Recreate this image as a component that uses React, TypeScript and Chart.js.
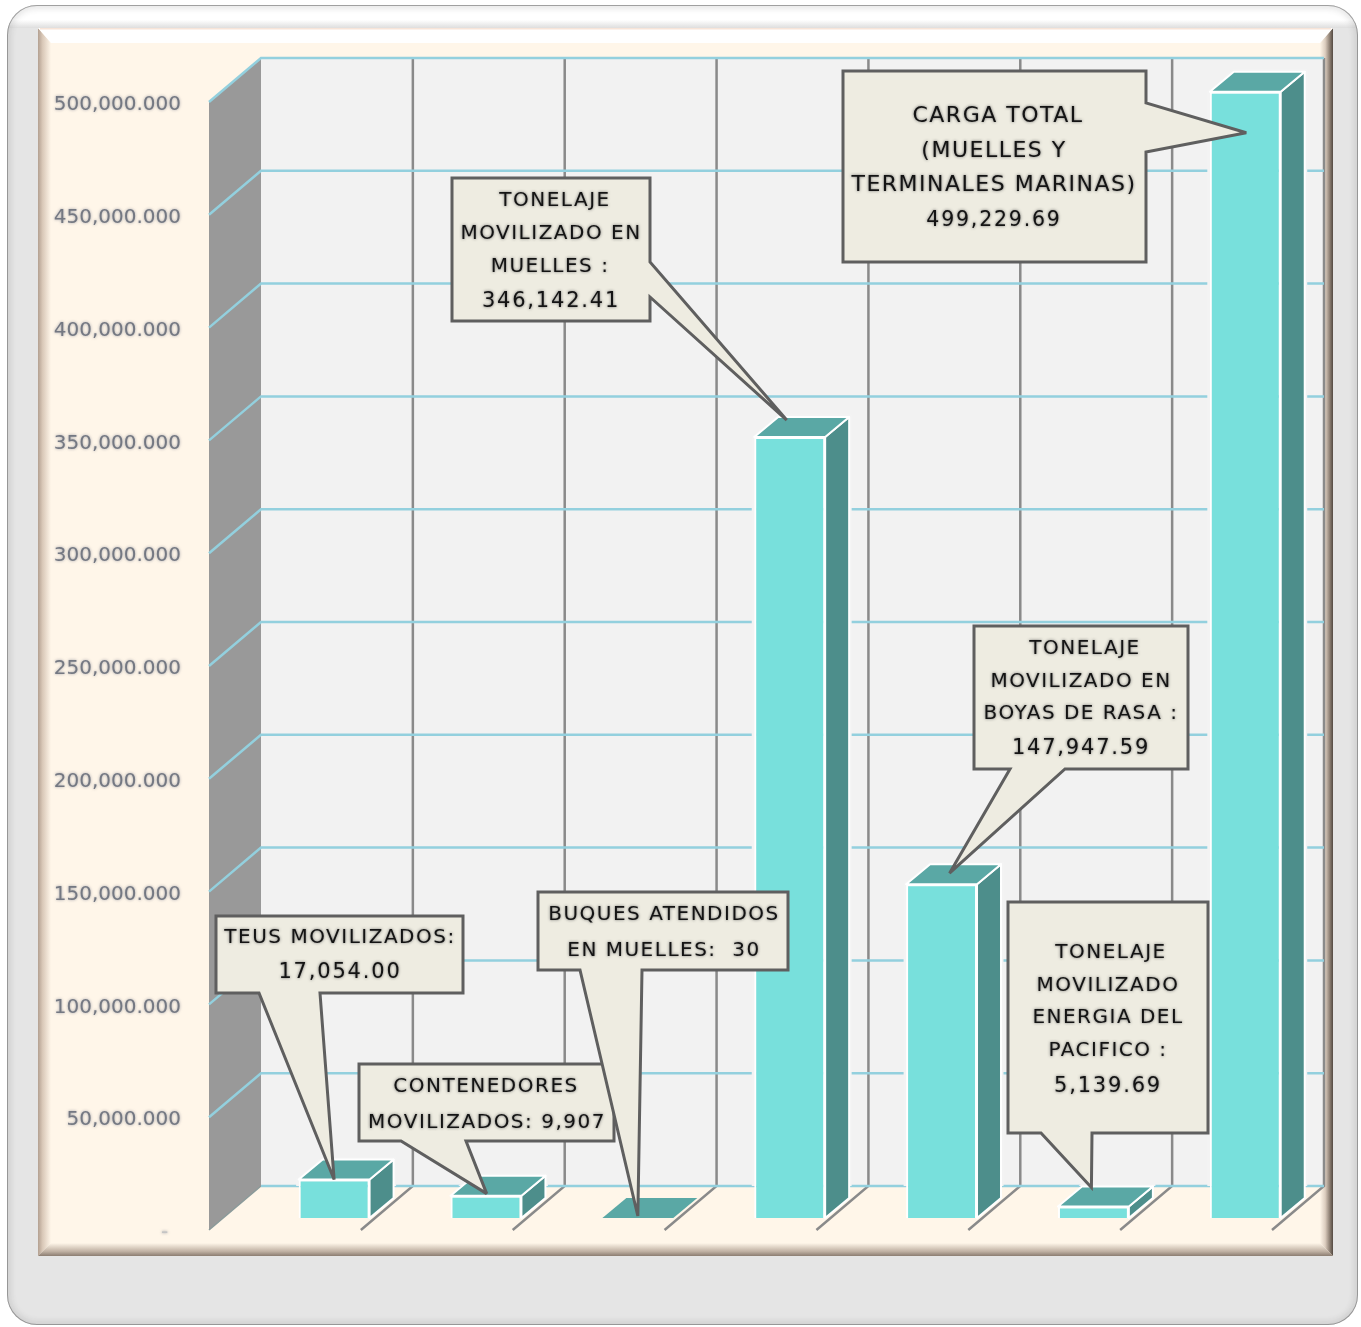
import React, { useEffect, useRef } from "react";
import { Chart, registerables } from "chart.js";

Chart.register(...registerables);

// ---------- data ----------
const categories = [
  "TEUS MOVILIZADOS",
  "CONTENEDORES MOVILIZADOS",
  "BUQUES ATENDIDOS EN MUELLES",
  "TONELAJE MOVILIZADO EN MUELLES",
  "TONELAJE MOVILIZADO EN BOYAS DE RASA",
  "TONELAJE MOVILIZADO ENERGIA DEL PACIFICO",
  "CARGA TOTAL",
];
const values = [17054000, 9907000, 30, 346142410, 147947590, 5139690, 499229690];
const axisMax = 500000000;
const axisStep = 50000000;

const calloutText = [
  ["TEUS MOVILIZADOS:", "17,054.00"],
  ["CONTENEDORES", "MOVILIZADOS: 9,907"],
  ["BUQUES ATENDIDOS", "EN MUELLES:  30"],
  ["TONELAJE", "MOVILIZADO EN", "MUELLES :", "346,142.41"],
  ["TONELAJE", "MOVILIZADO EN", "BOYAS DE RASA :", "147,947.59"],
  ["TONELAJE", "MOVILIZADO", "ENERGIA DEL", "PACIFICO :", "5,139.69"],
  ["CARGA TOTAL", "(MUELLES Y", "TERMINALES MARINAS)", "499,229.69"],
];

// ---------- layout (not data) ----------
const W = 1361;
const H = 1327;
const PLANE = { left: 209, right: 1272, top: 102, bottom: 1230 };
const WALL = { dx: 52, dy: -44 };
const BAR_SHIFT = { dx: 49.2, dy: -12 };
const BAR_DEPTH = { dx: 24, dy: -20 };

type Layout = {
  box: [number, number, number, number];
  edge: "bottom" | "right";
  base: [number, number];
  tip: [number, number];
  cx: number[];
  ys: number[];
  size: number;
  valueSize: number;
};
const calloutLayout: Layout[] = [
  { box: [216, 916, 463, 993], edge: "bottom", base: [259, 320], tip: [0, 0], cx: [340, 340], ys: [936, 971], size: 20, valueSize: 21 },
  { box: [359, 1064, 614, 1141], edge: "bottom", base: [401, 466], tip: [0.7, -2], cx: [486, 487], ys: [1085, 1121], size: 20, valueSize: 20 },
  { box: [538, 892, 788, 970], edge: "bottom", base: [580, 642], tip: [0, -2], cx: [664, 664], ys: [913, 949], size: 20, valueSize: 20 },
  { box: [452, 178, 650, 321], edge: "right", base: [262, 297], tip: [-3, -17], cx: [555, 551, 550, 551], ys: [199, 232, 265, 300], size: 20, valueSize: 21 },
  { box: [974, 626, 1188, 769], edge: "bottom", base: [1010, 1065], tip: [8, -11], cx: [1085, 1081, 1081, 1081], ys: [647, 680, 712, 747], size: 20, valueSize: 21 },
  { box: [1008, 902, 1208, 1133], edge: "bottom", base: [1041, 1092], tip: [-2, -19], cx: [1111, 1108, 1108, 1108, 1108], ys: [951, 984, 1016, 1049, 1085], size: 20, valueSize: 21 },
  { box: [843, 71, 1146, 262], edge: "right", base: [103, 152], tip: [1, 41], cx: [998, 994, 994, 994], ys: [115, 150, 184, 219], size: 22, valueSize: 20.5 },
];

function roundRect(ctx: CanvasRenderingContext2D, x: number, y: number, w: number, h: number, r: number) {
  ctx.beginPath();
  ctx.roundRect(x, y, w, h, r);
}

function poly(ctx: CanvasRenderingContext2D, pts: number[][], fill?: string) {
  ctx.beginPath();
  pts.forEach((p, i) => (i ? ctx.lineTo(p[0], p[1]) : ctx.moveTo(p[0], p[1])));
  ctx.closePath();
  if (fill) {
    ctx.fillStyle = fill;
    ctx.fill();
  }
}

function drawFrame(ctx: CanvasRenderingContext2D) {
  ctx.fillStyle = "#ffffff";
  ctx.fillRect(0, 0, W, H);
  const fx = 7, fy = 5, fw = 1351, fh = 1320, fr = 30;
  ctx.save();
  roundRect(ctx, fx, fy, fw, fh, fr);
  ctx.clip();
  ctx.fillStyle = "#e5e5e5";
  ctx.fillRect(fx, fy, fw, fh);
  let g = ctx.createLinearGradient(0, 5, 0, 28);
  g.addColorStop(0, "#ffffff");
  g.addColorStop(0.65, "#ffffff");
  g.addColorStop(1, "#dedede");
  ctx.fillStyle = g;
  ctx.fillRect(fx, fy, fw, 23);
  roundRect(ctx, fx, fy, fw, fh, fr);
  ctx.strokeStyle = "rgba(110,110,110,0.6)";
  ctx.shadowColor = "rgba(70,70,70,0.8)";
  ctx.shadowBlur = 7;
  ctx.lineWidth = 2;
  ctx.stroke();
  ctx.restore();

  // inner panel with bevel
  const L = 38, R = 1333, T = 28, B = 1256, bv = 13;
  ctx.fillStyle = "#fff6e9";
  ctx.fillRect(L, T, R - L, B - T);
  g = ctx.createLinearGradient(L, 0, L + bv, 0);
  g.addColorStop(0, "#b3a091");
  g.addColorStop(0.35, "#d9c8b8");
  g.addColorStop(1, "#fff6e9");
  poly(ctx, [[L, T], [L + bv, T + 15], [L + bv, B - bv], [L, B]], "");
  ctx.fillStyle = g;
  ctx.fill();
  g = ctx.createLinearGradient(R, 0, R - bv, 0);
  g.addColorStop(0, "#544a42");
  g.addColorStop(0.25, "#8d7f73");
  g.addColorStop(0.6, "#dccdbf");
  g.addColorStop(1, "#fff6e9");
  poly(ctx, [[R, T], [R - bv, T + 15], [R - bv, B - bv], [R, B]], "");
  ctx.fillStyle = g;
  ctx.fill();
  g = ctx.createLinearGradient(0, B, 0, B - bv);
  g.addColorStop(0, "#8b7d71");
  g.addColorStop(0.35, "#bfb0a2");
  g.addColorStop(1, "#fff6e9");
  poly(ctx, [[L, B], [L + bv, B - bv], [R - bv, B - bv], [R, B]], "");
  ctx.fillStyle = g;
  ctx.fill();
  poly(ctx, [[L, T], [R, T], [R - bv, T + 15], [L + bv, T + 15]], "#ffffff");
  ctx.fillStyle = "#f7e4d8";
  ctx.fillRect(L + 2, T, R - L - 4, 1.5);
}

function drawWalls(chart: any) {
  const ctx: CanvasRenderingContext2D = chart.ctx;
  const y = chart.scales.y;
  const x = chart.scales.x;
  const { left, right, top, bottom } = chart.chartArea;
  const backL = left + WALL.dx, backR = right + WALL.dx, backT = top + WALL.dy, backB = bottom + WALL.dy;
  ctx.fillStyle = "#f2f2f2";
  ctx.fillRect(backL, backT, backR - backL, backB - backT);
  poly(ctx, [[left, top], [backL, backT], [backL, backB], [left, bottom]], "#999999");

  // category boundaries on the floor and the back wall
  const catW = x.width / categories.length;
  ctx.strokeStyle = "#8a8a8a";
  ctx.lineWidth = 2.5;
  for (let i = 1; i <= categories.length; i++) {
    const fx = left + catW * i;
    ctx.beginPath();
    ctx.moveTo(fx, bottom);
    ctx.lineTo(fx + WALL.dx, backB);
    ctx.lineTo(fx + WALL.dx, backT);
    ctx.stroke();
  }
  ctx.strokeStyle = "#8a9a9a";
  ctx.lineWidth = 1.5;
  ctx.beginPath();
  ctx.moveTo(left, bottom);
  ctx.lineTo(backL, backB);
  ctx.stroke();

  // value gridlines on the side wall and back wall
  ctx.strokeStyle = "#93d0de";
  ctx.lineWidth = 2.5;
  y.ticks.forEach((t: any) => {
    const py = y.getPixelForValue(t.value);
    ctx.beginPath();
    if (t.value > 0) ctx.moveTo(left, py);
    else ctx.moveTo(backL, py + WALL.dy);
    ctx.lineTo(backL, py + WALL.dy);
    ctx.lineTo(backR, py + WALL.dy);
    ctx.stroke();
  });
}

const scenePlugin = {
  id: "scene",
  beforeDraw(chart: any) {
    const ctx: CanvasRenderingContext2D = chart.ctx;
    ctx.save();
    drawFrame(ctx);
    drawWalls(chart);
    ctx.restore();
    // halo for the axis labels that the scale draws next
    ctx.shadowColor = "rgba(120,125,140,0.75)";
    ctx.shadowBlur = 3;
  },
  beforeDatasetsDraw(chart: any) {
    const ctx: CanvasRenderingContext2D = chart.ctx;
    ctx.shadowColor = "transparent";
    ctx.shadowBlur = 0;
    const { left, right, top, bottom } = chart.chartArea;
    const meta = chart.getDatasetMeta(0);
    // soft pale halo of the bars over the back wall
    ctx.save();
    ctx.beginPath();
    ctx.rect(left + WALL.dx, top + WALL.dy, right - left, bottom - top);
    ctx.clip();
    ctx.strokeStyle = "#f3f3f3";
    ctx.lineWidth = 5;
    meta.data.forEach((el: any) => {
      const { x, y, base, width } = el.getProps(["x", "y", "base", "width"], true);
      const x0 = x - width / 2 + BAR_SHIFT.dx, x1 = x + width / 2 + BAR_SHIFT.dx;
      const t = y + BAR_SHIFT.dy, b = base + BAR_SHIFT.dy;
      poly(ctx, [[x0, b], [x0, t], [x0 + BAR_DEPTH.dx, t + BAR_DEPTH.dy], [x1 + BAR_DEPTH.dx, t + BAR_DEPTH.dy], [x1 + BAR_DEPTH.dx, b + BAR_DEPTH.dy], [x1, b]]);
      ctx.stroke();
    });
    ctx.restore();
    ctx.save();
    ctx.translate(BAR_SHIFT.dx, BAR_SHIFT.dy);
  },
  afterDatasetsDraw(chart: any) {
    const ctx: CanvasRenderingContext2D = chart.ctx;
    ctx.restore();
    const meta = chart.getDatasetMeta(0);
    ctx.save();
    ctx.lineJoin = "round";
    meta.data.forEach((el: any) => {
      const { x, y, base, width } = el.getProps(["x", "y", "base", "width"], true);
      const x0 = x - width / 2 + BAR_SHIFT.dx, x1 = x + width / 2 + BAR_SHIFT.dx;
      const t = y + BAR_SHIFT.dy, b = base + BAR_SHIFT.dy;
      const d = BAR_DEPTH;
      ctx.strokeStyle = "#ffffff";
      ctx.lineWidth = 2;
      poly(ctx, [[x1, t], [x1 + d.dx, t + d.dy], [x1 + d.dx, b + d.dy], [x1, b]], "#4d8e8b");
      if (b - t > 1) ctx.stroke();
      poly(ctx, [[x0, t], [x0 + d.dx, t + d.dy], [x1 + d.dx, t + d.dy], [x1, t]], "#5aa8a5");
      if (b - t > 1) ctx.stroke();
    });
    ctx.restore();

    // callouts
    ctx.save();
    calloutLayout.forEach((c, i) => {
      const el = meta.data[i];
      const tipX = el.x + BAR_SHIFT.dx + c.tip[0];
      const tipY = el.y + BAR_SHIFT.dy + c.tip[1];
      const [x0, y0, x1, y1] = c.box;
      const pts =
        c.edge === "bottom"
          ? [[x0, y0], [x1, y0], [x1, y1], [c.base[1], y1], [tipX, tipY], [c.base[0], y1], [x0, y1]]
          : [[x0, y0], [x1, y0], [x1, c.base[0]], [tipX, tipY], [x1, c.base[1]], [x1, y1], [x0, y1]];
      poly(ctx, pts, "#eeece1");
      ctx.strokeStyle = "#5f5f5f";
      ctx.lineWidth = 3;
      ctx.lineJoin = "miter";
      ctx.miterLimit = 3;
      ctx.stroke();

      ctx.textAlign = "center";
      ctx.textBaseline = "middle";
      ctx.fillStyle = "#141414";
      ctx.shadowColor = "rgba(90,90,90,0.9)";
      ctx.shadowBlur = 3;
      calloutText[i].forEach((line, k) => {
        const isValue = /^\d/.test(line);
        ctx.font = `${isValue ? c.valueSize : c.size}px "DejaVu Sans"`;
        (ctx as any).letterSpacing = isValue ? "1.8px" : "1.5px";
        ctx.fillText(line, c.cx[k], c.ys[k] + 1.5);
      });
      ctx.shadowColor = "transparent";
      ctx.shadowBlur = 0;
      (ctx as any).letterSpacing = "0px";
    });
    ctx.restore();
  },
};

export default function App() {
  const ref = useRef<HTMLCanvasElement | null>(null);
  useEffect(() => {
    const chart = new Chart(ref.current as HTMLCanvasElement, {
      type: "bar",
      data: {
        labels: categories,
        datasets: [
          {
            data: values,
            backgroundColor: "#78e0dc",
            borderColor: "#ffffff",
            borderWidth: 2,
            categoryPercentage: 1,
            barPercentage: 0.467,
            clip: false,
          } as any,
        ],
      },
      options: {
        responsive: false,
        animation: false,
        layout: {
          padding: {
            left: 0,
            right: W - PLANE.right,
            top: PLANE.top,
            bottom: H - PLANE.bottom,
          },
        },
        plugins: { legend: { display: false }, title: { display: false }, tooltip: { enabled: false } },
        scales: {
          x: { type: "category", display: false },
          y: {
            type: "linear",
            min: 0,
            max: axisMax,
            afterFit(scale: any) {
              scale.width = PLANE.left;
            },
            grid: { display: false, drawTicks: false },
            border: { display: false },
            ticks: {
              stepSize: axisStep,
              autoSkip: false,
              padding: 28,
              labelOffset: 3,
              color: (c: any) => (c.tick && c.tick.value === 0 ? "#c4c4c4" : "#747882"),
              font: { family: '"DejaVu Sans"', size: 20 },
              callback: (v: any) =>
                Number(v) === 0
                  ? "-  "
                  : Number(v).toLocaleString("en-US").replace(/,(\d{3})$/, ".$1"),
            },
          },
        },
      } as any,
      plugins: [scenePlugin as any],
    });
    return () => chart.destroy();
  }, []);
  return (
    <div style={{ position: "absolute", left: 0, top: 0, width: W, height: H, overflow: "hidden" }}>
      <canvas ref={ref} width={W} height={H} style={{ display: "block", filter: "blur(0.5px)" }} />
    </div>
  );
}
